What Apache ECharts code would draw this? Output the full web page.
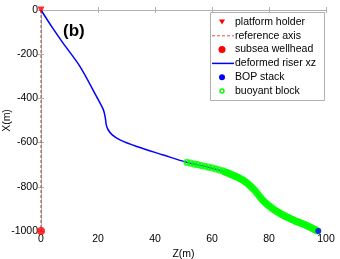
<!DOCTYPE html>
<html>
<head>
<meta charset="utf-8">
<script src="https://cdn.jsdelivr.net/npm/echarts@6/dist/echarts.min.js"></script>
<style>
  html, body { margin: 0; padding: 0; background: #fff; }
  #chart { width: 340px; height: 259px; }
</style>
</head>
<body>
<div id="chart"></div>
<script>
// deformed riser shape, [Z(m), X(m)]
const riserXZ = [
  [0, 0], [4, -80], [7.8, -151], [13.7, -256], [19.5, -392], [21.9, -452],
  [22.6, -490], [22.9, -520], [23.6, -543], [25, -565], [27.7, -588],
  [33.6, -618], [42.9, -656], [51.1, -689], [57, -706], [64, -731],
  [68.7, -754], [72, -780], [75.7, -829], [80.4, -890], [87.4, -943],
  [93, -975], [97.3, -1000]
];
// buoyant block positions along the riser (sparse at top, dense below)
const buoyant = [
  [51.2, -689], [52.5, -693], [53.8, -697], [55, -700], [56.3, -704],
  [57.5, -707], [58.8, -711], [60, -714], [61.3, -719], [62.5, -723],
  [63.8, -728], [64.5, -733], [65, -735], [65.5, -737], [66, -740],
  [66.5, -743], [67, -746], [67.5, -748], [68, -751], [68.5, -754],
  [69, -757], [69.5, -760], [70, -764], [70.5, -767], [71, -771],
  [71.5, -775], [72, -780], [72.5, -785], [73, -791], [73.5, -797],
  [74, -803], [74.5, -809], [75, -816], [75.5, -824], [76, -832],
  [76.5, -840], [77, -848], [77.5, -856], [78, -863], [78.5, -869],
  [79, -875], [79.5, -881], [80, -886], [80.5, -891], [81, -896],
  [81.5, -901], [82, -905], [82.5, -909], [83, -913], [83.5, -917],
  [84, -921], [84.5, -925], [85, -928], [85.5, -932], [86, -935],
  [86.5, -938], [87, -941], [87.5, -944], [88, -947], [88.5, -950],
  [89, -953], [89.5, -956], [90, -958], [90.5, -961], [91, -963],
  [91.5, -966], [92, -968], [92.5, -971], [93, -974], [93.5, -977],
  [94, -980], [94.5, -983], [95, -986], [95.5, -990], [96, -993],
  [96.5, -996], [97, -999]
];
const platformHolder = [[0, 0]];
const referenceAxis = [[0, 0], [0, -1000]];
const wellhead = [[0, -1000]];
const bopStack = [[97.3, -1000]];
const xTicks = [0, 20, 40, 60, 80, 100];
const yTicks = [0, -200, -400, -600, -800, -1000];
const legendNames = ['platform holder', 'reference axis', 'subsea wellhead',
                     'deformed riser xz', 'BOP stack', 'buoyant block'];

const axisGray = '#b0b0b0';
const font = 'Liberation Sans, Arial, sans-serif';

// legend drawn by hand (matlab style box)
const lgX = 210, lgY = 12, rowH = 13.8;
const mx = 222, y0 = lgY + 10;
const legendEls = [{
  type: 'rect', shape: { x: lgX + 0.5, y: lgY + 0.5, width: 114, height: 88 },
  style: { fill: '#fff', stroke: axisGray, lineWidth: 1 }
}];
legendNames.forEach((name, i) => {
  legendEls.push({
    type: 'text', x: 235, y: y0 + i * rowH,
    style: { text: name, font: '10.5px ' + font, fill: '#000', verticalAlign: 'middle' }
  });
});
legendEls.push(
  { type: 'polygon', shape: { points: [[mx - 3, y0 - 2.5], [mx + 3, y0 - 2.5], [mx, y0 + 2.5]] },
    style: { fill: '#ff0000' } },
  { type: 'line', shape: { x1: 212, y1: y0 + rowH, x2: 234, y2: y0 + rowH },
    style: { stroke: '#e85050', lineWidth: 1, lineDash: [3, 2] } },
  { type: 'circle', shape: { cx: mx, cy: y0 + 2 * rowH, r: 3.5 }, style: { fill: '#ff0000' } },
  { type: 'line', shape: { x1: 212, y1: y0 + 3 * rowH, x2: 234, y2: y0 + 3 * rowH },
    style: { stroke: '#0000ff', lineWidth: 1.5 } },
  { type: 'circle', shape: { cx: mx, cy: y0 + 4 * rowH, r: 3 }, style: { fill: '#0000ff' } },
  { type: 'circle', shape: { cx: mx, cy: y0 + 5 * rowH, r: 2 },
    style: { fill: 'none', stroke: '#00ff00', lineWidth: 1.5 } }
);
legendEls.forEach(e => { e.z = 100; });

const chart = echarts.init(document.getElementById('chart'));
chart.setOption({
  animation: false,
  textStyle: { fontFamily: font },
  grid: { left: 41, right: 14, top: 10, bottom: 28, outerBoundsMode: 'none' },
  xAxis: [{
    type: 'value', min: xTicks[0], max: xTicks[xTicks.length - 1], interval: 20,
    name: 'Z(m)', nameLocation: 'middle', nameGap: 18, nameMoveOverlap: false,
    nameTextStyle: { fontSize: 10.5, color: '#000' },
    axisLine: { lineStyle: { color: axisGray } },
    axisTick: { inside: true, length: 3, lineStyle: { color: axisGray } },
    axisLabel: { fontSize: 10.5, color: '#000', margin: 3 },
    splitLine: { show: false }
  }, {
    type: 'value', position: 'top', min: 0, max: 100, interval: 20,
    axisLine: { show: true, lineStyle: { color: axisGray } },
    axisTick: { inside: true, length: 3, lineStyle: { color: axisGray } },
    axisLabel: { show: false }, splitLine: { show: false }
  }],
  yAxis: [{
    type: 'value', min: yTicks[yTicks.length - 1], max: yTicks[0], interval: 200,
    name: 'X(m)', nameLocation: 'middle', nameGap: 28, nameRotate: 90, nameMoveOverlap: false,
    nameTextStyle: { fontSize: 10.5, color: '#000' },
    axisLine: { show: true, lineStyle: { color: axisGray } },
    axisTick: { show: true, inside: true, length: 3, lineStyle: { color: axisGray } },
    axisLabel: { fontSize: 10.5, color: '#000', margin: 3, formatter: v => String(v) },
    splitLine: { show: false }
  }, {
    type: 'value', position: 'right', min: -1000, max: 0, interval: 200,
    axisLine: { show: true, lineStyle: { color: axisGray } },
    axisTick: { show: true, inside: true, length: 3, lineStyle: { color: axisGray } },
    axisLabel: { show: false }, splitLine: { show: false }
  }],
  graphic: [{
    type: 'text', left: 63, top: 23, z: 10,
    style: { text: '(b)', font: 'bold 17px ' + font, fill: '#000' }
  }].concat(legendEls),
  series: [
    {
      name: 'reference axis', type: 'line', data: referenceAxis,
      symbol: 'none', z: 1,
      lineStyle: { color: '#a04848', width: 1, type: [3, 2] }
    },
    {
      name: 'deformed riser xz', type: 'line', data: riserXZ,
      smooth: 0.3, symbol: 'none', z: 2,
      lineStyle: { color: '#0000ff', width: 1.5 }
    },
    {
      name: 'buoyant block', type: 'scatter', data: buoyant,
      symbol: 'circle', symbolSize: 5, z: 3,
      itemStyle: { color: 'rgba(0,0,0,0)', borderColor: '#00ff00', borderWidth: 2.2 }
    },
    {
      name: 'platform holder', type: 'scatter', data: platformHolder,
      symbol: 'triangle', symbolRotate: 180, symbolSize: 7, z: 5,
      itemStyle: { color: '#ff0000' }
    },
    {
      name: 'subsea wellhead', type: 'scatter', data: wellhead,
      symbol: 'circle', symbolSize: 8, z: 5,
      itemStyle: { color: '#ff0000' }
    },
    {
      name: 'BOP stack', type: 'scatter', data: bopStack,
      symbol: 'circle', symbolSize: 6, z: 5,
      itemStyle: { color: '#0000ff' }
    }
  ]
});
</script>
</body>
</html>
